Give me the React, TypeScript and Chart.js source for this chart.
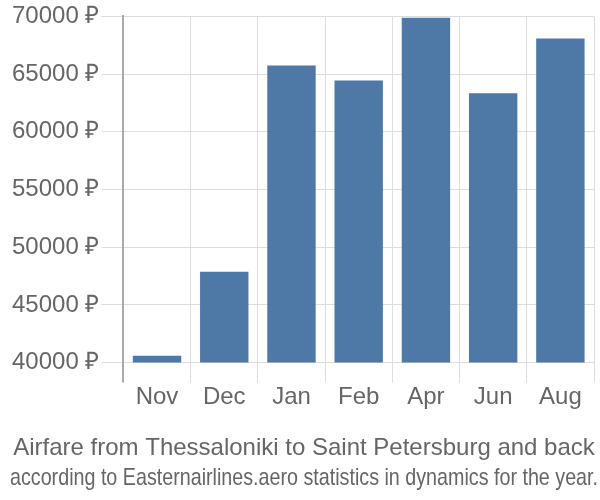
import React, { useEffect, useRef } from "react";
import { Chart, registerables } from "chart.js";

Chart.register(...registerables);

const categories = ["Nov", "Dec", "Jan", "Feb", "Apr", "Jun", "Aug"];
const prices = [40600, 47870, 65750, 64450, 69880, 63330, 68080];
const yMin = 40000;
const yMax = 70000;
const yStep = 5000;
const titleText = "Airfare from Thessaloniki to Saint Petersburg and back";
const subtitleText = "according to Easternairlines.aero statistics in dynamics for the year.";

const FONT = "'Liberation Sans', Arial, sans-serif";

export default function App() {
  const ref = useRef<HTMLCanvasElement | null>(null);
  useEffect(() => {
    document.body.style.margin = "0";
    const chart = new Chart(ref.current!, {
      type: "bar",
      data: {
        labels: categories,
        datasets: [
          {
            data: prices,
            backgroundColor: "#4e79a7",
            borderWidth: 0,
          },
        ],
      },
      options: {
        animation: false,
        responsive: false,
        layout: { padding: { left: 10, right: 2, top: 15, bottom: 7 } },
        plugins: {
          legend: { display: false },
          tooltip: { enabled: false },
          title: {
            display: true,
            text: titleText,
            position: "bottom",
            weight: 1000,
            color: "#666",
            font: { family: FONT, size: 24, weight: "normal" },
            padding: { top: 23, bottom: 0 },
          },
          subtitle: {
            display: true,
            text: subtitleText,
            position: "bottom",
            weight: 2000,
            color: "#666",
            font: { family: FONT, size: 24, weight: "normal" },
            padding: { top: 1, bottom: 0 },
          },
        },
        scales: {
          x: {
            grid: {
              color: (ctx) => (ctx.index === 0 ? "#aaaaaa" : "#dddddd"),
              lineWidth: (ctx) => (ctx.index === 0 ? 2 : 1),
              tickLength: 20,
              offset: true,
            },
            border: { color: "#dddddd" },
            ticks: { color: "#666", font: { family: FONT, size: 24 }, padding: 0 },
          },
          y: {
            min: yMin,
            max: yMax,
            grid: { color: "#dddddd", tickLength: 22 },
            border: { color: "#aaaaaa", width: 2 },
            ticks: {
              stepSize: yStep,
              color: "#666",
              padding: 2,
              font: { family: FONT, size: 24 },
              callback: (v) => `${v} ₽`,
            },
          },
          yRightSpace: {
            type: "linear",
            position: "right",
            display: true,
            grid: { display: false },
            border: { display: false },
            ticks: { display: false },
            afterFit: (s) => {
              s.width = 4;
            },
          },
        },
      },
    });
    return () => chart.destroy();
  }, []);
  return (
    <div style={{ width: 600, height: 500 }}>
      <canvas ref={ref} width={600} height={500} />
    </div>
  );
}
